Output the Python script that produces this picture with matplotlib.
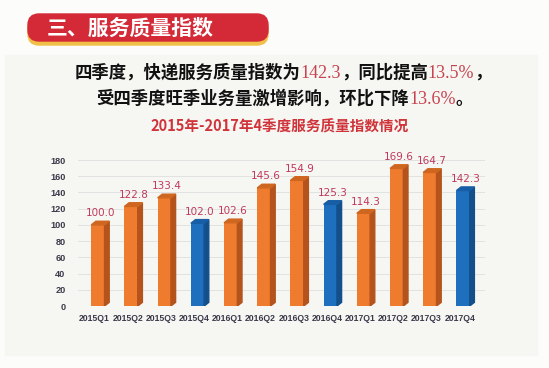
import numpy as np
import matplotlib
matplotlib.use('Agg')
import matplotlib.pyplot as plt
from matplotlib.patches import Polygon, FancyBboxPatch, Rectangle

# 数据
quarters = ['2015Q1', '2015Q2', '2015Q3', '2015Q4', '2016Q1', '2016Q2',
            '2016Q3', '2016Q4', '2017Q1', '2017Q2', '2017Q3', '2017Q4']
index_values = [100.0, 122.8, 133.4, 102.0, 102.6, 145.6,
                154.9, 125.3, 114.3, 169.6, 164.7, 142.3]
y_ticks = [0, 20, 40, 60, 80, 100, 120, 140, 160, 180]

header = '三、服务质量指数'
line1 = [('四季度，快递服务质量指数为', 'k'), ('142.3', 'r'), ('，同比提高', 'k'),
         ('13.5%', 'r'), ('，', 'k')]
line2 = [('受四季度旺季业务量激增影响，环比下降', 'k'), ('13.6%', 'r'), ('。', 'k')]
chart_title = '2015年-2017年4季度服务质量指数情况'

cjk = ['Noto Sans CJK SC', 'DejaVu Sans']

fig = plt.figure(figsize=(5.49, 3.68), dpi=100, facecolor='#fcfcfa')

# 背景层（像素坐标）
bg = fig.add_axes([0, 0, 1, 1])
bg.set_xlim(0, 549)
bg.set_ylim(368, 0)
bg.axis('off')
bg.add_patch(Rectangle((5, 55), 532, 300, color='#f6f6f3', zorder=0))

# 标题横幅
bg.add_patch(FancyBboxPatch((28, 18), 240, 27, boxstyle='round,pad=0,rounding_size=11',
                            color='#f0c048', zorder=1))
bg.add_patch(FancyBboxPatch((28, 14), 240, 27, boxstyle='round,pad=0,rounding_size=11',
                            color='#d42a37', zorder=2))
bg.text(130, 28, header, color='white', fontsize=15, fontweight='bold',
        family=cjk, ha='center', va='center', zorder=3)

renderer = fig.canvas.get_renderer()


def rich_line(parts, xc, y):
    texts = []
    for s, kind in parts:
        if kind == 'k':
            t = bg.text(0, y, s, fontsize=12.5, fontweight='bold', family=cjk,
                        color='#111111', va='center')
        else:
            t = bg.text(0, y, s, fontsize=13, family=['Liberation Serif'],
                        color='#c8434f', va='center')
        texts.append(t)
    widths = [t.get_window_extent(renderer).width for t in texts]
    x = xc - sum(widths) / 2
    for t, w in zip(texts, widths):
        t.set_x(x)
        x += w


rich_line(line1, 283, 73)
rich_line(line2, 285, 99)
bg.text(280, 127, chart_title, color='#d0343a', fontsize=10.5, fontweight='bold',
        family=cjk, ha='center', va='center')

# 柱状图
ax = fig.add_axes([78 / 549, 1 - 306 / 368, 407 / 549, 146 / 368])
ax.patch.set_alpha(0)
x = np.arange(len(quarters))
w = 0.4
dx, dy = 0.14, 4.5

for xi, v, q in zip(x, index_values, quarters):
    if q.endswith('Q4'):
        front, side, top = '#1f6fbf', '#134f8a', '#185ea6'
    else:
        front, side, top = '#ee7b2e', '#b4531b', '#cf661f'
    ax.bar(xi, v, width=w, color=front, zorder=3)
    r = xi + w / 2
    l = xi - w / 2
    ax.add_patch(Polygon([(r, 0), (r, v), (r + dx, v + dy), (r + dx, dy)],
                         closed=True, color=side, zorder=3))
    ax.add_patch(Polygon([(l, v), (r, v), (r + dx, v + dy), (l + dx, v + dy)],
                         closed=True, color=top, zorder=3))
    ax.annotate(f'{v:.1f}', (xi + dx / 2, v + dy), xytext=(0, 2),
                textcoords='offset points', ha='center', va='bottom',
                fontsize=7.5, color='#c0395a')

ax.set_xlim(-0.6, 11.66)
ax.set_ylim(0, 180)
ax.set_yticks(y_ticks)
ax.set_xticks(x - 0.1)
ax.set_xticklabels(quarters)
ax.tick_params(axis='x', length=0, labelsize=6.2, labelcolor='#3a3a4a', pad=6)
ax.tick_params(axis='y', length=0, labelsize=6.6, labelcolor='#3a3a4a', pad=9)
for lab in ax.get_xticklabels() + ax.get_yticklabels():
    lab.set_fontweight('bold')
    lab.set_family('Liberation Sans')
ax.grid(axis='y', color='#e2e2e2', linewidth=0.7, zorder=0)
for s in ax.spines.values():
    s.set_visible(False)

fig.savefig('out.png', dpi=100, facecolor=fig.get_facecolor())
